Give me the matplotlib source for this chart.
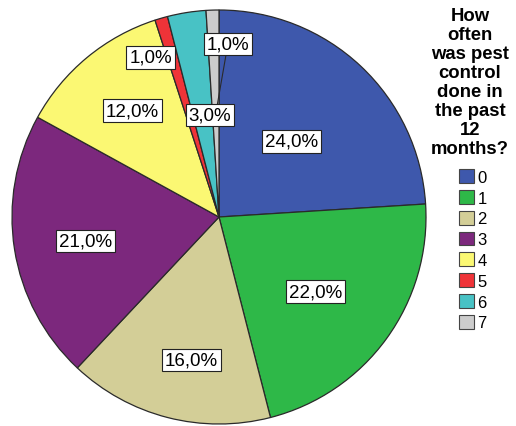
import numpy as np
import matplotlib.pyplot as plt
from matplotlib.patches import Patch

plt.rcParams['font.family'] = ['Liberation Sans', 'DejaVu Sans']

categories = ['0', '1', '2', '3', '4', '5', '6', '7']
percents = [24.0, 22.0, 16.0, 21.0, 12.0, 1.0, 3.0, 1.0]
colors = ['#3E58AC', '#2EB848', '#D3CE97', '#7C287D',
          '#FBF873', '#EF3338', '#48C2C5', '#CCCCCC']
legend_title = 'How\noften\nwas pest\ncontrol\ndone in\nthe past\n12\nmonths?'

# label anchor points in units of the pie radius
label_pos = [(0.350, 0.365), (0.466, -0.360), (-0.133, -0.691), (-0.645, -0.116),
             (-0.418, 0.514), (-0.331, 0.771), (-0.043, 0.493), (0.043, 0.836)]

W, H = 516, 427
fig = plt.figure(figsize=(W / 100, H / 100), dpi=100)
cx, cy, r = 219, 218, 207
ax = fig.add_axes([(cx - r) / W, (H - cy - r) / H, 2 * r / W, 2 * r / H])

wedges, _ = ax.pie(percents, colors=colors, startangle=90, counterclock=False,
                   radius=1, wedgeprops=dict(edgecolor='#2a2a2a', linewidth=0.9))
ax.set_xlim(-1, 1)
ax.set_ylim(-1, 1)
ax.axis('off')

# leader line from the last small slice to its label
w = wedges[-1]
mid = np.deg2rad((w.theta1 + w.theta2) / 2)
ax.plot([label_pos[-1][0], 0.5 * np.cos(mid)], [label_pos[-1][1], 0.5 * np.sin(mid)],
        color='#2a2a2a', linewidth=0.8, zorder=3)

for i, (p, (x, y)) in enumerate(zip(percents, label_pos)):
    ax.text(x, y, f'{p:.1f}%'.replace('.', ','), ha='center', va='center',
            fontsize=13.5, zorder=4 + (i == len(percents) - 1),
            bbox=dict(boxstyle='square,pad=0.15', facecolor='white',
                      edgecolor='#222222', linewidth=0.8))

fig.text(470 / W, 1 - 8 / H, legend_title, ha='center', va='top',
         fontsize=13.3, fontweight='bold', linespacing=1.15, multialignment='center')

handles = [Patch(facecolor=c, edgecolor='#444444', linewidth=0.8) for c in colors]
fig.legend(handles, categories, loc='upper left',
           bbox_to_anchor=(459 / W, 1 - 170 / H), frameon=False,
           fontsize=12, handlelength=0.9, handleheight=0.9,
           handletextpad=0.2, labelspacing=0.31, borderpad=0, borderaxespad=0)

fig.savefig('out.png', dpi=100)
